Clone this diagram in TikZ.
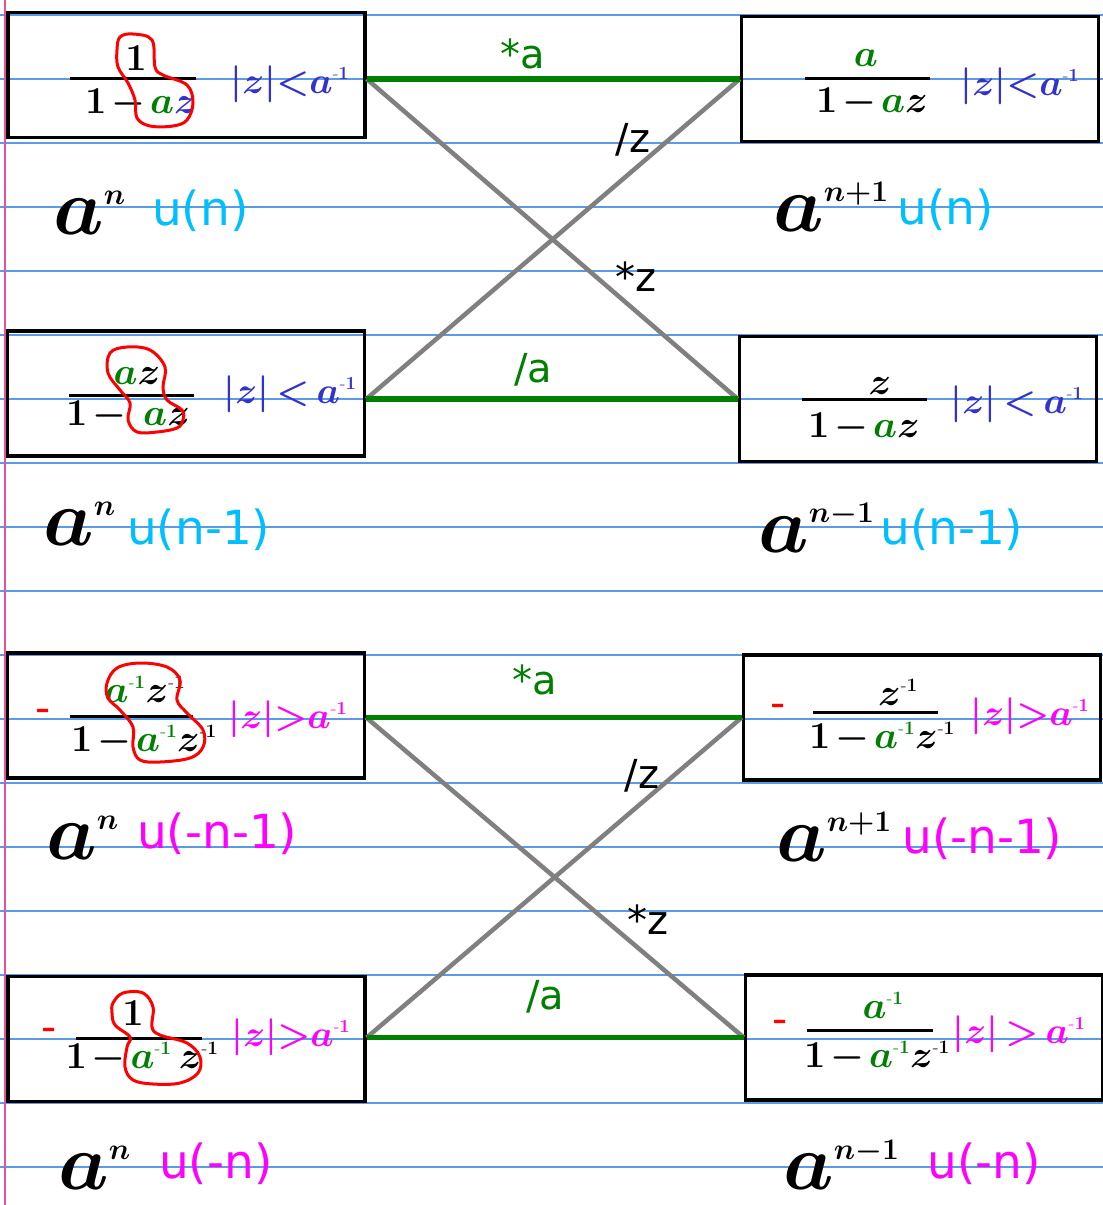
\RequirePackage{fix-cm}
\documentclass[tikz,border=0pt]{standalone}
\usepackage{amsmath}
\usepackage{fontspec}
\newfontfamily\dejavu{DejaVu Sans}
\usepackage{tikz}
\definecolor{rulerblue}{RGB}{90,155,230}
\definecolor{marginpink}{RGB}{232,80,160}
\definecolor{pengreen}{RGB}{0,128,0}
\definecolor{pengray}{RGB}{128,128,128}
\definecolor{penblue}{RGB}{51,51,204}
\definecolor{penmagenta}{RGB}{255,0,255}
\definecolor{pencyan}{RGB}{0,191,255}
\definecolor{penred}{RGB}{255,0,0}
\newcommand{\grn}[1]{{\color{pengreen}#1}}
\newcommand{\mone}{^{\scriptscriptstyle\text{-}1}}
\newcommand{\zminus}{\mkern2mu{-}\mkern2mu}
\newcommand{\seqexp}[1]{^{\hbox{\fontsize{30}{32}\selectfont$#1$}}}

\begin{document}
\begin{tikzpicture}[x=1pt, y=-1pt,
    zbox/.style={draw, line width=3.5pt, minimum width=357pt, minimum height=125pt, inner sep=0pt},
    rule/.style={rulerblue, line width=1.4pt},
    pass/.style={pengreen, line width=5.5pt},
    cross/.style={pengray, line width=4.5pt},
    bar/.style={line width=3pt},
    frac/.style={font=\fontsize{38}{42}\selectfont\boldmath, inner sep=0pt, anchor=base},
    roc/.style={font=\fontsize{37}{40}\selectfont\boldmath, inner sep=0pt, anchor=base},
    seq/.style={font=\fontsize{80}{86}\selectfont\boldmath, inner sep=0pt, anchor=base west},
    unit/.style={font=\dejavu\fontsize{47}{52}\selectfont, inner sep=0pt, anchor=base west},
    oplabel/.style={font=\dejavu\fontsize{40}{44}\selectfont, inner sep=0pt},
    sign/.style={text=penred, font=\dejavu\fontsize{42}{44}\selectfont, inner sep=0pt},
    redring/.style={penred, line width=3pt}]
  \fill[white] (0,0) rectangle (1103,1205);
  \useasboundingbox (0,0) rectangle (1103,1205);
  \foreach \y in {15,79,...,1167}
    \draw[rule] (0,\y) -- (1103,\y);
  \draw[marginpink, line width=1.5pt] (5,0) -- (5,1205);

  \node[zbox] (L1) at (186.5,75) {};
  \node[zbox] (R1) at (920,79) {};
  \node[zbox] (L2) at (186,393.5) {};
  \node[zbox] (R2) at (918,399) {};
  \node[zbox] (L3) at (186,715.5) {};
  \node[zbox] (R3) at (922,717.5) {};
  \node[zbox] (L4) at (186.5,1039) {};
  \node[zbox] (R4) at (924,1037.5) {};

  \draw[cross] (L1.east |- R1.west) -- (R2.west);
  \draw[cross] (L2.east |- R2.west) -- (R1.west);
  \draw[pass] (L1.east |- R1.west) -- (R1.west);
  \draw[pass] (L2.east |- R2.west) -- (R2.west);
  \draw[cross] (L3.east |- R3.west) -- (R4.west);
  \draw[cross] (L4.east |- R4.west) -- (R3.west);
  \draw[pass] (L3.east |- R3.west) -- (R3.west);
  \draw[pass] (L4.east |- R4.west) -- (R4.west);

  \node[oplabel, text=pengreen] (ma1) at (523,54) {*a};
  \node[oplabel] (dz1) at (633,140) {/z};
  \node[oplabel] (mz1) at (636,277) {*z};
  \node[oplabel, text=pengreen] (da1) at (533,370) {/a};
  \node[oplabel, text=pengreen] (ma2) at (535,680) {*a};
  \node[oplabel] (dz2) at (642,776) {/z};
  \node[oplabel] (mz2) at (648,920) {*z};
  \node[oplabel, text=pengreen] (da2) at (545,997) {/a};

  \node[frac] (n1) at (136,70) {$1$};
  \draw[bar] (70,78) -- (196,78);
  \node[frac] (d1) at (141,113) {$1\zminus\grn{a}{\color{penblue}z}$};
  \node[roc, text=penblue] (c1) at (290,93) {$|z|{<}a\mone$};
  \draw[redring] plot[smooth cycle, tension=0.6] coordinates {(117,50) (120,37) (133,34) (152,40) (155,67) (163,75) (187,85) (193,103) (187,120) (173,126) (150,126) (137,118) (135,100) (128,83) (118,67)};

  \node[frac] (n2) at (866,66) {$\grn{a}$};
  \draw[bar] (805,78) -- (930,78);
  \node[frac] (d2) at (872,112) {$1\zminus\grn{a}z$};
  \node[roc, text=penblue] (c2) at (1020,95) {$|z|{<}a\mone$};

  \node[frac] (n3) at (137,384) {$\grn{a}z$};
  \draw[bar] (69,395) -- (194,395);
  \node[frac] (d3) at (128,425) {$1\zminus\;\grn{a}z$};
  \node[roc, text=penblue] (c3) at (290,403) {$|z|\,{<}\,a\mone$};
  \draw[redring] plot[smooth cycle, tension=0.6] coordinates {(108,373) (110,353) (127,347) (150,350) (165,367) (163,387) (167,400) (182,410) (183,420) (177,428) (157,432) (137,432) (128,420) (130,403) (120,390)};

  \node[frac] (n4) at (880,394) {$z$};
  \draw[bar] (802,399) -- (927,399);
  \node[frac] (d4) at (864,437) {$1\zminus\grn{a}z$};
  \node[roc, text=penblue] (c4) at (1017,413) {$|z|\,{<}\,a\mone$};

  \node[sign] (s5) at (43,716) {-};
  \node[frac] (n5) at (145,702) {$\grn{a\mone}z\mone$};
  \draw[bar] (70,716) -- (193,716);
  \node[frac] (d5) at (144,751) {$1\zminus\grn{a\mone}z\mone$};
  \node[roc, text=penmagenta] (c5) at (288,728) {$|z|{>}a\mone$};
  \draw[redring] plot[smooth cycle, tension=0.6] coordinates {(108,698) (107,683) (117,668) (140,663) (167,667) (180,680) (177,700) (187,713) (203,730) (203,747) (190,758) (160,762) (140,760) (133,747) (133,727) (120,710)};

  \node[sign] (s6) at (778,711) {-};
  \node[frac] (n6) at (898,705) {$z\mone$};
  \draw[bar] (813,712) -- (938,712);
  \node[frac] (d6) at (882,748) {$1\zminus\grn{a\mone}z\mone$};
  \node[roc, text=penmagenta] (c6) at (1030,725) {$|z|{>}a\mone$};

  \node[sign] (s7) at (49,1035) {-};
  \node[frac] (n7) at (133,1025) {$1$};
  \draw[bar] (76,1038) -- (202,1038);
  \node[frac] (d7) at (142,1068) {$1\zminus\grn{a\mone}\,z\mone$};
  \node[roc, text=penmagenta] (c7) at (291,1046) {$|z|{>}a\mone$};
  \draw[redring] plot[smooth cycle, tension=0.6] coordinates {(112,1013) (113,1003) (123,993) (143,993) (153,1007) (152,1027) (160,1035) (187,1043) (200,1057) (198,1073) (180,1083) (153,1084) (133,1080) (125,1067) (127,1047) (130,1037) (115,1025)};

  \node[sign] (s8) at (780,1027) {-};
  \node[frac] (n8) at (883,1018) {$\grn{a\mone}$};
  \draw[bar] (807,1030) -- (933,1030);
  \node[frac] (d8) at (877,1067) {$1\zminus\grn{a\mone}z\mone$};
  \node[roc, text=penmagenta] (c8) at (1019,1043) {$|z|\,{>}\,a\mone$};

  \node[seq] (a1) at (53,234) {$a\seqexp{n}$};
  \node[unit, text=pencyan] (u1) at (152,225) {u(n)};
  \node[seq] (b1) at (773,231) {$a\seqexp{n{+}1}$};
  \node[unit, text=pencyan] (v1) at (897,224) {u(n)};
  \node[seq] (a2) at (43,545) {$a\seqexp{n}$};
  \node[unit, text=pencyan] (u2) at (127,544) {u(n-1)};
  \node[seq] (b2) at (758,552) {$a\seqexp{n{-}1}$};
  \node[unit, text=pencyan] (v2) at (880,544) {u(n-1)};
  \node[seq] (a3) at (46,859) {$a\seqexp{n}$};
  \node[unit, text=penmagenta] (u3) at (137,848) {u(-n-1)};
  \node[seq] (b3) at (776,861) {$a\seqexp{n{+}1}$};
  \node[unit, text=penmagenta] (v3) at (902,853) {u(-n-1)};
  \node[seq] (a4) at (58,1189) {$a\seqexp{n}$};
  \node[unit, text=penmagenta] (u4) at (159,1178) {u(-n)};
  \node[seq] (b4) at (783,1189) {$a\seqexp{n{-}1}$};
  \node[unit, text=penmagenta] (v4) at (927,1178) {u(-n)};
\end{tikzpicture}
\end{document}
